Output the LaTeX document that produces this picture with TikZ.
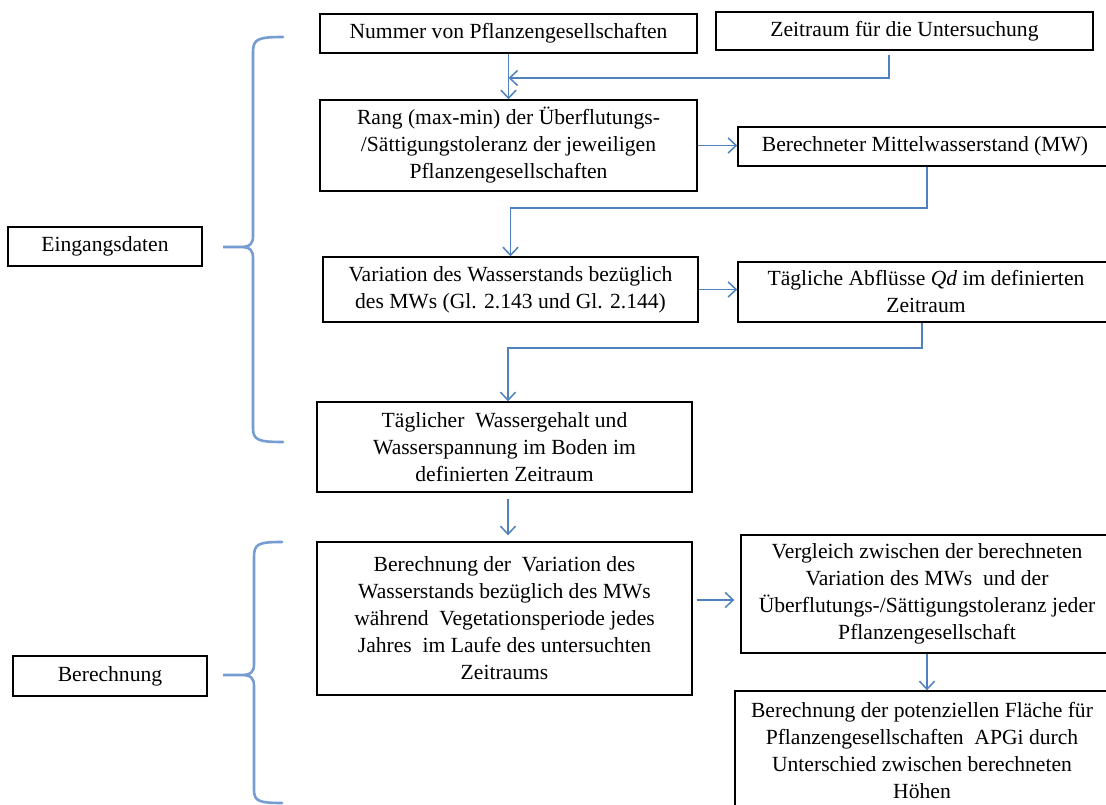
\documentclass[tikz,border=0pt]{standalone}
\usepackage{fontspec}
\setmainfont{Liberation Serif}
\usepackage{tikz}
\usetikzlibrary{arrows.meta}
\definecolor{linkblue}{RGB}{79,129,189}
\definecolor{braceblue}{RGB}{118,157,210}

\begin{document}
\begin{tikzpicture}[x=1pt,y=-1pt,
box/.style={draw=black, line width=1.4pt, align=center, inner sep=0pt, font=\fontsize{21.6}{27}\selectfont},
link/.style={draw=linkblue, line width=1.5pt, -{Straight Barb[length=8pt,width=15pt]}},
curly/.style={draw=braceblue, line width=2.6pt, line cap=round}
]
\useasboundingbox (0,0) rectangle (1106,805);
\clip (0,0) rectangle (1106,805);
%Nodes
\node[box, minimum width=377pt, minimum height=39pt]  (nummer)    at (508.5,33.5) {Nummer von Pflanzengesellschaften};
\node[box, minimum width=377pt, minimum height=38pt]  (zeitraum)  at (904.5,31)   {Zeitraum für die Untersuchung};
\node[box, minimum width=377pt, minimum height=91pt]  (rang)      at (508.5,145.5) {Rang (max-min) der Überflutungs-\\/Sättigungstoleranz der jeweiligen\\Pflanzengesellschaften};
\node[box, minimum width=374pt, minimum height=39pt]  (mw)        at (925,146.5)  {Berechneter Mittelwasserstand (MW)};
\node[box, minimum width=375pt, minimum height=65pt]  (variation) at (510.5,289.5) {Variation des Wasserstands bezüglich\\des MWs (Gl. 2.143 und Gl. 2.144)};
\node[box, minimum width=376pt, minimum height=60pt]  (taeglich)  at (926,292)    {Tägliche Abflüsse \textit{Qd} im definierten\\Zeitraum};
\node[box, minimum width=375pt, minimum height=90pt]  (wasser)    at (504.5,447)  {Täglicher\ \ Wassergehalt und\\Wasserspannung im Boden im\\definierten Zeitraum};
\node[box, minimum width=375pt, minimum height=153pt] (berech)    at (504.5,618.5) {Berechnung der\ \ Variation des\\Wasserstands bezüglich des MWs\\während\ \ Vegetationsperiode jedes\\Jahres\ \ im Laufe des untersuchten\\Zeitraums};
\node[box, minimum width=372pt, minimum height=118pt] (vergleich) at (927,594)    {Vergleich zwischen der berechneten\\Variation des MWs\ \ und der\\Überflutungs-/Sättigungstoleranz jeder\\Pflanzengesellschaft};
\node[box, minimum width=374pt, minimum height=118pt] (flaeche)   at (922,750)    {Berechnung der potenziellen Fläche für\\Pflanzengesellschaften\ \ APGi durch\\Unterschied zwischen berechneten\\Höhen};
\node[box, minimum width=194pt, minimum height=39pt]  (eingang)   at (105,246.5)  {Eingangsdaten};
\node[box, minimum width=194pt, minimum height=40pt]  (berechnung) at (110,676)   {Berechnung};
%Junctions
\coordinate (k1) at (0,78);
\coordinate (k2) at (0,208);
\coordinate (k3) at (508,348);
\coordinate (k4) at (0,600);
%Lines
\draw[link] (nummer.south) -- (rang.north);
\draw[link] ([xshift=-15.5pt,yshift=-4pt]zeitraum.south) |- (k1 -| nummer.south);
\draw[link] (rang.east) -- (rang.east -| mw.west);
\draw[link] ([xshift=2pt]mw.south) |- (k2 -| variation.north) -- (variation.north);
\draw[link] (variation.east) -- (variation.east -| taeglich.west);
\draw[link] ([xshift=-4pt]taeglich.south) |- (k3) -- (k3 |- wasser.north);
\draw[link, shorten <=6pt, shorten >=6pt] (wasser.south -| k3) -- (k3 |- berech.north);
\draw[link, shorten <=4pt, shorten >=6pt] (berech.east |- k4) -- (k4 -| vergleich.west);
\draw[link] (vergleich.south) -- (vergleich.south |- flaeche.north);
%Braces
\draw[curly] (283,37) .. controls (258,37) and (253,39) .. (253,52) -- (253,236)
  .. controls (253,244) and (250,247) .. (240,247) -- (223,247) -- (240,247)
  .. controls (250,247) and (253,250) .. (253,258) -- (253,428)
  .. controls (253,440) and (258,442) .. (283,442);
\draw[curly] (282,542) .. controls (258,542) and (254,544) .. (254,557) -- (254,664)
  .. controls (254,672) and (251,675) .. (241,675) -- (223,675) -- (241,675)
  .. controls (251,675) and (254,678) .. (254,686) -- (254,790)
  .. controls (254,801) and (259,803) .. (282,803);
\end{tikzpicture}
\end{document}
